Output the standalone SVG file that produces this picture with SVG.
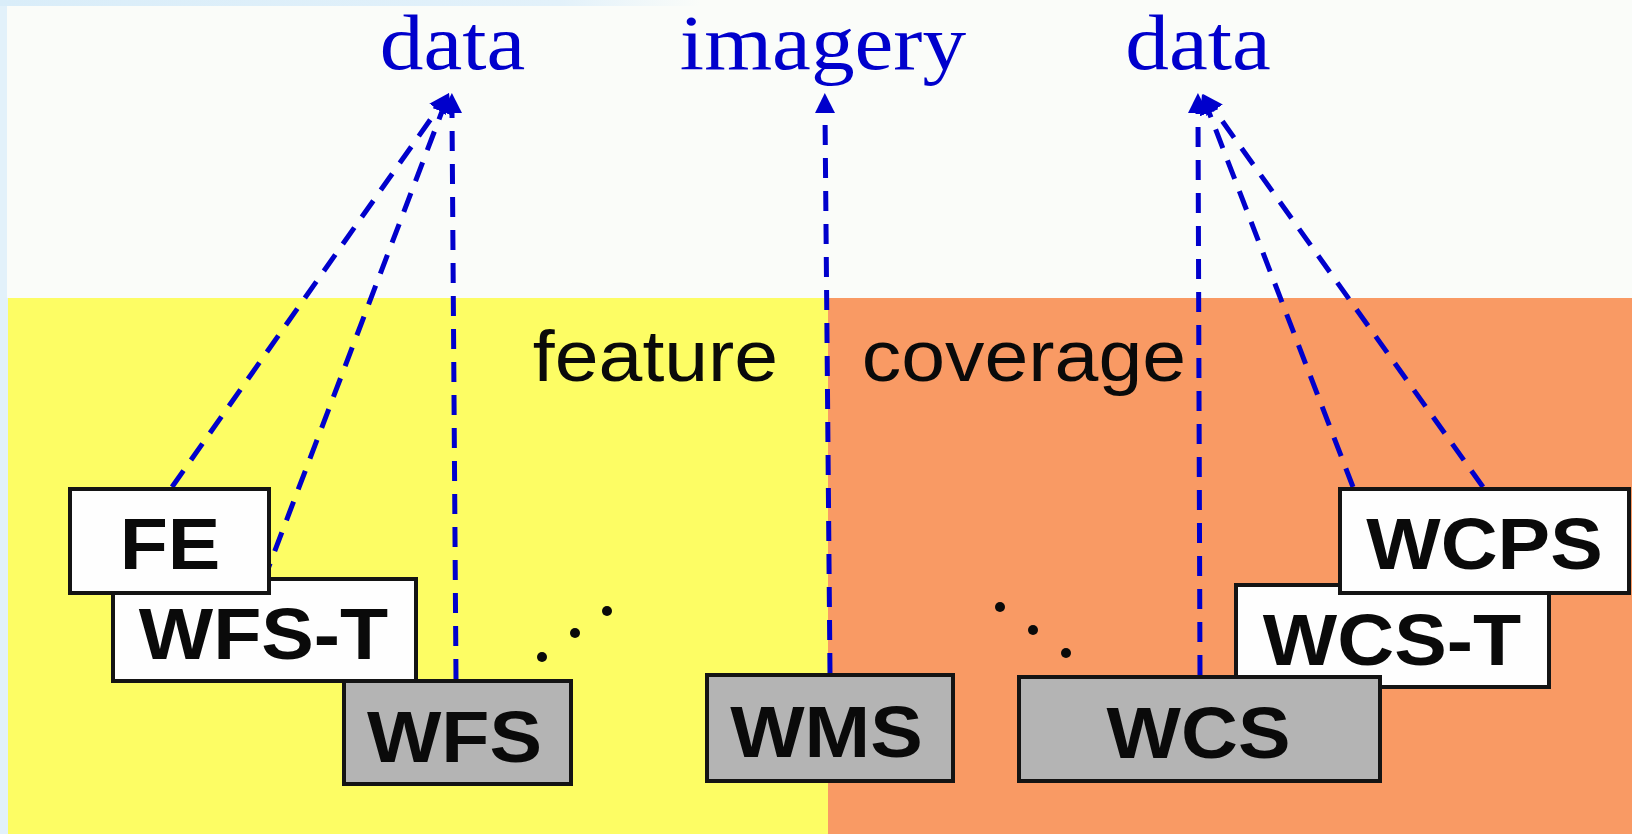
<svg xmlns="http://www.w3.org/2000/svg" width="1632" height="834" viewBox="0 0 1632 834">
  <defs>
    <linearGradient id="topband" x1="0" y1="0" x2="1" y2="0">
      <stop offset="0" stop-color="#D9EDF9"/>
      <stop offset="0.8" stop-color="#E2F1FA"/>
      <stop offset="1" stop-color="#FAFCF9"/>
    </linearGradient>
    <marker id="arrow" viewBox="0 0 20 20" refX="0" refY="10" markerWidth="20" markerHeight="20" markerUnits="userSpaceOnUse" orient="auto">
      <path d="M0,0 L20,10 L0,20 Z" fill="#0000CC"/>
    </marker>
    <style>
      .conn { fill: none; stroke: #0000CC; stroke-width: 5; stroke-dasharray: 20 13; marker-end: url(#arrow); }
      .box-white { fill: #FEFEFE; stroke: #141414; stroke-width: 4; }
      .box-gray { fill: #B4B4B4; stroke: #141414; stroke-width: 4; }
      .lbl { font-family: "Liberation Sans", Arial, sans-serif; font-weight: bold; font-size: 72px; fill: #0A0A0A; text-anchor: middle; }
      .area { font-family: "Liberation Sans", Arial, sans-serif; font-size: 72px; fill: #0A0A0A; text-anchor: middle; }
      .top { font-family: "Liberation Serif", "Times New Roman", serif; font-size: 77px; fill: #0000CC; text-anchor: middle; }
      .dot { fill: #0A0A0A; }
    </style>
  </defs>

  <!-- background -->
  <rect x="0" y="0" width="1632" height="834" fill="#E2F1FA"/>
  <rect x="7" y="0" width="1625" height="298" fill="#FAFCF9"/>
  <rect x="0" y="0" width="700" height="6" fill="url(#topband)"/>
  <rect x="8" y="298" width="820" height="536" fill="#FDFD64"/>
  <rect x="828" y="298" width="804" height="536" fill="#F99A64"/>

  <!-- top labels -->
  <g id="top-labels">
    <text class="top" transform="translate(452.5,69) scale(1.135,1.02)">data</text>
    <text class="top" transform="translate(823,69) scale(1.135,1.02)">imagery</text>
    <text class="top" transform="translate(1198,69) scale(1.135,1.02)">data</text>
  </g>

  <!-- area labels -->
  <g id="area-labels">
    <text class="area" transform="translate(655.5,381) scale(1.095,1)">feature</text>
    <text class="area" transform="translate(1024,381) scale(1.095,1)">coverage</text>
  </g>

  <!-- connectors -->
  <g id="connectors">
    <line class="conn" x1="172" y1="487" x2="437.5" y2="109.4"/>
    <line class="conn" x1="263" y1="582" x2="441.9" y2="111.7"/>
    <line class="conn" x1="456" y1="679" x2="452" y2="113"/>
    <line class="conn" x1="830" y1="673" x2="825" y2="113"/>
    <line class="conn" x1="1200" y1="675" x2="1198" y2="113"/>
    <line class="conn" x1="1353" y1="487" x2="1209.2" y2="112.7"/>
    <line class="conn" x1="1483" y1="487" x2="1214.6" y2="110.3"/>
  </g>

  <!-- ellipsis dots -->
  <g id="dots-left">
    <circle class="dot" cx="542" cy="657" r="5"/>
    <circle class="dot" cx="575" cy="633" r="5"/>
    <circle class="dot" cx="607" cy="611" r="5"/>
  </g>
  <g id="dots-right">
    <circle class="dot" cx="1000" cy="607" r="5"/>
    <circle class="dot" cx="1033" cy="630" r="5"/>
    <circle class="dot" cx="1066" cy="653" r="5"/>
  </g>

  <!-- nodes -->
  <g id="node-WFS">
    <rect class="box-gray" x="344" y="681" width="227" height="103"/>
    <text class="lbl" transform="translate(454.5,762) scale(1.095,1)">WFS</text>
  </g>
  <g id="node-WFS-T">
    <rect class="box-white" x="113" y="579" width="303" height="102"/>
    <text class="lbl" transform="translate(263.5,659) scale(1.095,1)">WFS-T</text>
  </g>
  <g id="node-FE">
    <rect class="box-white" x="70" y="489" width="199" height="104"/>
    <text class="lbl" transform="translate(170,569) scale(1.095,1)">FE</text>
  </g>
  <g id="node-WMS">
    <rect class="box-gray" x="707" y="675" width="246" height="106"/>
    <text class="lbl" transform="translate(826.5,757) scale(1.095,1)">WMS</text>
  </g>
  <g id="node-WCS-T">
    <rect class="box-white" x="1236" y="585" width="313" height="102"/>
    <text class="lbl" transform="translate(1392,665) scale(1.095,1)">WCS-T</text>
  </g>
  <g id="node-WCS">
    <rect class="box-gray" x="1019" y="677" width="361" height="104"/>
    <text class="lbl" transform="translate(1198.5,758) scale(1.095,1)">WCS</text>
  </g>
  <g id="node-WCPS">
    <rect class="box-white" x="1340" y="489" width="289" height="104"/>
    <text class="lbl" transform="translate(1484.5,569) scale(1.095,1)">WCPS</text>
  </g>
</svg>
